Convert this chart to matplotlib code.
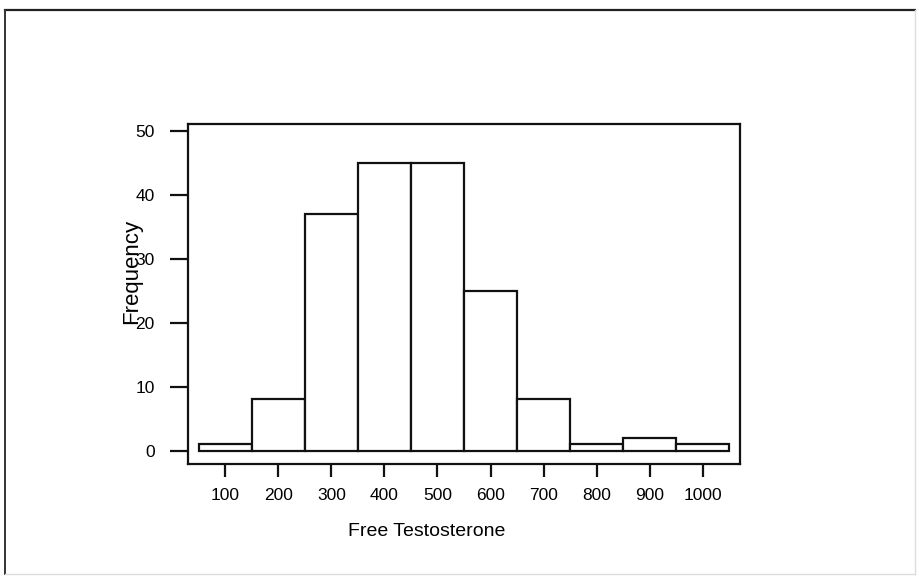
import matplotlib
matplotlib.use("Agg")
import matplotlib.pyplot as plt
from matplotlib.lines import Line2D

plt.rcParams['font.family'] = ['Liberation Sans', 'DejaVu Sans']

# Histogram of free testosterone: bin centres and counts
bin_centers = [100, 200, 300, 400, 500, 600, 700, 800, 900, 1000]
counts = [1, 8, 37, 45, 45, 25, 8, 1, 2, 1]
bin_width = 100
x_ticks = [100, 200, 300, 400, 500, 600, 700, 800, 900, 1000]
y_ticks = [0, 10, 20, 30, 40, 50]

W, H = 919, 576
fig = plt.figure(figsize=(W / 100, H / 100), dpi=100)
fig.patch.set_facecolor('white')

ax = fig.add_axes([188 / W, 1 - 464 / H, (740 - 188) / W, (464 - 124) / H])
ax.bar(bin_centers, counts, width=bin_width, align='center',
       facecolor='white', edgecolor='#111111', linewidth=1.6)

ax.set_xlim(30, 1070)
ax.set_ylim(-2.1, 51.1)
ax.set_xticks(x_ticks)
ax.set_yticks(y_ticks)
ax.set_xticklabels([str(v) for v in x_ticks], fontsize=12.5)
ax.set_yticklabels([str(v) for v in y_ticks], fontsize=12.5)
ax.tick_params(axis='x', length=9, width=1.6, pad=8, color='#111111')
ax.tick_params(axis='y', length=13, width=1.6, pad=11, color='#111111')
for s in ax.spines.values():
    s.set_linewidth(1.6)
    s.set_color('#111111')

ax.set_xlabel('Free Testosterone', fontsize=14)
ax.xaxis.set_label_coords((427 - 188) / 552, -0.175)
ax.set_ylabel('Frequency', fontsize=16)
ax.yaxis.set_label_coords(-0.083, 0.565)

# Outer frame around the whole graphic
x0, x1 = 5 / W, 915 / W
y0, y1 = 1 - 574 / H, 1 - 10 / H
fig.add_artist(Line2D([x0, x1], [y1, y1], color='#222222', lw=1.6,
                      transform=fig.transFigure))
fig.add_artist(Line2D([x0, x0], [y0, y1], color='#333333', lw=1.4,
                      transform=fig.transFigure))
fig.add_artist(Line2D([x1, x1], [y0, y1], color='#dddddd', lw=1.0,
                      transform=fig.transFigure))
fig.add_artist(Line2D([x0, x1], [y0, y0], color='#dddddd', lw=1.0,
                      transform=fig.transFigure))

fig.savefig('out.png', dpi=100, facecolor='white')
